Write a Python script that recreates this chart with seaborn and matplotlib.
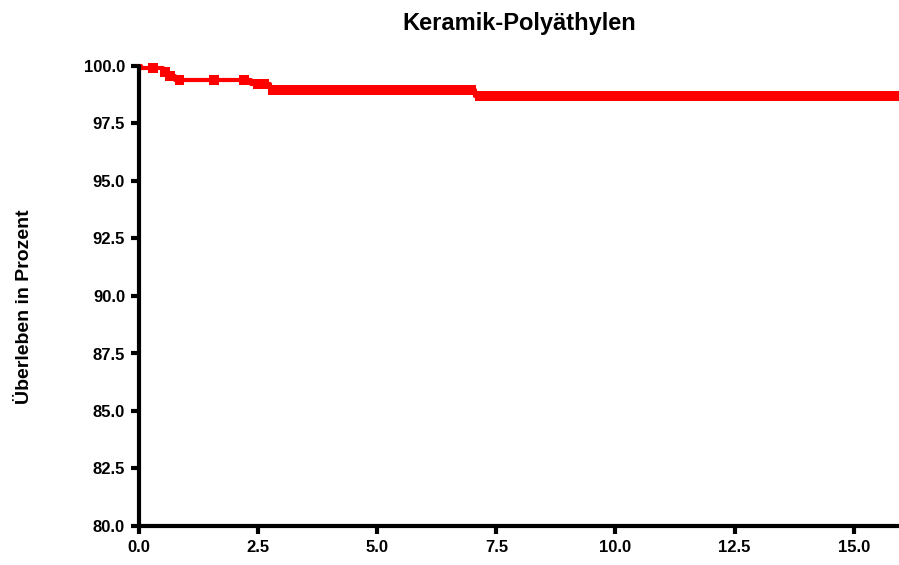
import numpy as np
import pandas as pd
import matplotlib
matplotlib.use("Agg")
import matplotlib.pyplot as plt
import seaborn as sns

# Kaplan-Meier step data (years, survival %)
step_times = [0.0, 0.05, 0.5, 0.6, 0.75, 2.35, 2.75, 7.05, 15.95]
step_surv = [100.0, 99.9, 99.75, 99.55, 99.38, 99.2, 98.95, 98.68, 98.68]

# censored observations (years)
censor_times = [0.3, 0.55, 0.65, 0.85, 1.58, 2.2, 2.5, 2.62, 2.8,
                2.95, 3.1, 3.25, 3.4, 3.55, 3.7, 3.85, 4.0, 4.15, 4.3, 4.45,
                4.6, 4.75, 4.9, 5.05, 5.2, 5.35, 5.5, 5.65, 5.8, 5.95, 6.1,
                6.25, 6.4, 6.55, 6.7, 6.85, 6.98, 7.15, 7.3, 7.45, 7.6, 7.75,
                7.9, 8.05, 8.2, 8.35, 8.5, 8.65, 8.8, 8.95, 9.1, 9.25, 9.4,
                9.55, 9.7, 9.85, 10.0, 10.15, 10.3, 10.45, 10.6, 10.75, 10.9,
                11.05, 11.2, 11.35, 11.5, 11.65, 11.8, 11.95, 12.1, 12.25,
                12.4, 12.55, 12.7, 12.85, 13.0, 13.15, 13.3, 13.45, 13.6,
                13.75, 13.9, 14.05, 14.2, 14.35, 14.5, 14.65, 14.8, 14.95,
                15.1, 15.25, 15.4, 15.55, 15.7, 15.85]

x_ticks = [0.0, 2.5, 5.0, 7.5, 10.0, 12.5, 15.0]
y_ticks = [80.0, 82.5, 85.0, 87.5, 90.0, 92.5, 95.0, 97.5, 100.0]

title = "Keramik-Polyäthylen"
ylabel = "Überleben in Prozent"

sns.set_theme(style="ticks")
plt.rcParams['font.family'] = ['Liberation Sans', 'DejaVu Sans']
plt.rcParams['text.color'] = 'black'
plt.rcParams['axes.labelcolor'] = 'black'
plt.rcParams['xtick.color'] = 'black'
plt.rcParams['ytick.color'] = 'black'

fig = plt.figure(figsize=(8.99, 5.65), dpi=100)
ax = fig.add_axes([139 / 899, 39 / 565, 760 / 899, 460 / 565])

steps = pd.DataFrame({"t": step_times, "s": step_surv})
sns.lineplot(data=steps, x="t", y="s", ax=ax, color="#ff0000", lw=3.0,
             drawstyle="steps-post", estimator=None, sort=False, clip_on=False)

ct = np.array(censor_times)
idx = np.searchsorted(np.array(step_times), ct, side="right") - 1
cs = np.array(step_surv)[idx]
cens = pd.DataFrame({"t": ct, "s": cs})
sns.scatterplot(data=cens, x="t", y="s", ax=ax, marker="s", s=50,
                color="#ff0000", edgecolor="none", linewidth=0, clip_on=False)

ax.set_xlim(0, 15.95)
ax.set_ylim(80, 100)
ax.set_xticks(x_ticks)
ax.set_yticks(y_ticks)
ax.set_xticklabels([f"{v:.1f}" for v in x_ticks], fontsize=12, fontweight="bold")
ax.set_yticklabels([f"{v:.1f}" for v in y_ticks], fontsize=12, fontweight="bold")
ax.set_xlabel("")
ax.set_ylabel(ylabel, fontsize=14, fontweight="bold")
ax.yaxis.set_label_coords(-0.139, 0.476)
ax.set_title(title, fontsize=17, fontweight="bold", pad=26)

for side in ["top", "right"]:
    ax.spines[side].set_visible(False)
for side in ["left", "bottom"]:
    ax.spines[side].set_linewidth(3)
    ax.spines[side].set_color("black")
    ax.spines[side].set_capstyle("round")
ax.tick_params(axis="both", which="major", length=6, width=3, color="black",
               direction="out", pad=4)
ax.set_facecolor("white")
ax.grid(False)

fig.savefig("out.png", dpi=100, facecolor="white")
